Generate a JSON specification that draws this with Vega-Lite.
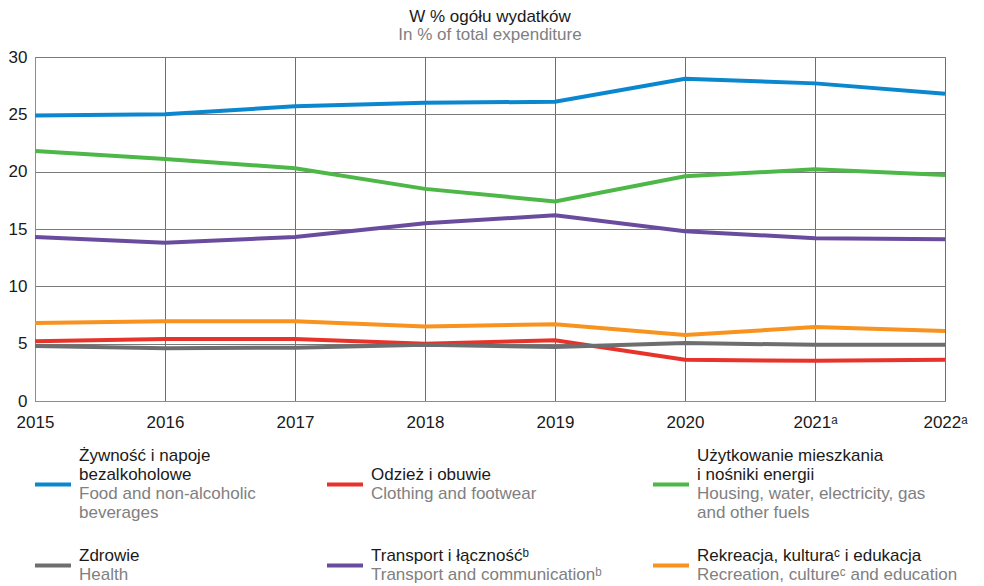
{
  "$schema": "https://vega.github.io/schema/vega-lite/v6.json",
  "padding": {"left": 7, "top": 7, "right": 10, "bottom": 0},
  "config": {"font": "Liberation Sans", "view": {"stroke": null}, "concat": {"spacing": 16}},
  "datasets": {
    "series": [
      {"year": 2015, "cat": "food", "value": 24.9}, {"year": 2016, "cat": "food", "value": 25.0}, {"year": 2017, "cat": "food", "value": 25.7}, {"year": 2018, "cat": "food", "value": 26.0}, {"year": 2019, "cat": "food", "value": 26.1}, {"year": 2020, "cat": "food", "value": 28.1}, {"year": 2021, "cat": "food", "value": 27.7}, {"year": 2022, "cat": "food", "value": 26.8},
      {"year": 2015, "cat": "cloth", "value": 5.2}, {"year": 2016, "cat": "cloth", "value": 5.4}, {"year": 2017, "cat": "cloth", "value": 5.4}, {"year": 2018, "cat": "cloth", "value": 5.0}, {"year": 2019, "cat": "cloth", "value": 5.3}, {"year": 2020, "cat": "cloth", "value": 3.6}, {"year": 2021, "cat": "cloth", "value": 3.5}, {"year": 2022, "cat": "cloth", "value": 3.6},
      {"year": 2015, "cat": "housing", "value": 21.8}, {"year": 2016, "cat": "housing", "value": 21.1}, {"year": 2017, "cat": "housing", "value": 20.3}, {"year": 2018, "cat": "housing", "value": 18.5}, {"year": 2019, "cat": "housing", "value": 17.4}, {"year": 2020, "cat": "housing", "value": 19.6}, {"year": 2021, "cat": "housing", "value": 20.2}, {"year": 2022, "cat": "housing", "value": 19.7},
      {"year": 2015, "cat": "health", "value": 4.8}, {"year": 2016, "cat": "health", "value": 4.6}, {"year": 2017, "cat": "health", "value": 4.65}, {"year": 2018, "cat": "health", "value": 4.9}, {"year": 2019, "cat": "health", "value": 4.7}, {"year": 2020, "cat": "health", "value": 5.05}, {"year": 2021, "cat": "health", "value": 4.9}, {"year": 2022, "cat": "health", "value": 4.9},
      {"year": 2015, "cat": "transport", "value": 14.3}, {"year": 2016, "cat": "transport", "value": 13.8}, {"year": 2017, "cat": "transport", "value": 14.3}, {"year": 2018, "cat": "transport", "value": 15.5}, {"year": 2019, "cat": "transport", "value": 16.2}, {"year": 2020, "cat": "transport", "value": 14.8}, {"year": 2021, "cat": "transport", "value": 14.2}, {"year": 2022, "cat": "transport", "value": 14.1},
      {"year": 2015, "cat": "recreation", "value": 6.8}, {"year": 2016, "cat": "recreation", "value": 6.95}, {"year": 2017, "cat": "recreation", "value": 6.95}, {"year": 2018, "cat": "recreation", "value": 6.5}, {"year": 2019, "cat": "recreation", "value": 6.7}, {"year": 2020, "cat": "recreation", "value": 5.75}, {"year": 2021, "cat": "recreation", "value": 6.45}, {"year": 2022, "cat": "recreation", "value": 6.1}
    ],
    "swatches": [
      {"cat": "food", "col": 0, "slot": 1.5},
      {"cat": "cloth", "col": 1, "slot": 1.5},
      {"cat": "housing", "col": 2, "slot": 1.5},
      {"cat": "health", "col": 0, "slot": 5.5},
      {"cat": "transport", "col": 1, "slot": 5.5},
      {"cat": "recreation", "col": 2, "slot": 5.5}
    ],
    "labels": [
      {"col": 0, "slot": 0, "lang": "pl", "text": "Żywność i napoje"},
      {"col": 0, "slot": 1, "lang": "pl", "text": "bezalkoholowe"},
      {"col": 0, "slot": 2, "lang": "en", "text": "Food and non-alcoholic"},
      {"col": 0, "slot": 3, "lang": "en", "text": "beverages"},
      {"col": 1, "slot": 1, "lang": "pl", "text": "Odzież i obuwie"},
      {"col": 1, "slot": 2, "lang": "en", "text": "Clothing and footwear"},
      {"col": 2, "slot": 0, "lang": "pl", "text": "Użytkowanie mieszkania"},
      {"col": 2, "slot": 1, "lang": "pl", "text": "i nośniki energii"},
      {"col": 2, "slot": 2, "lang": "en", "text": "Housing, water, electricity, gas"},
      {"col": 2, "slot": 3, "lang": "en", "text": "and other fuels"},
      {"col": 0, "slot": 5, "lang": "pl", "text": "Zdrowie"},
      {"col": 0, "slot": 6, "lang": "en", "text": "Health"},
      {"col": 1, "slot": 5, "lang": "pl", "text": "Transport i łącznośćᵇ"},
      {"col": 1, "slot": 6, "lang": "en", "text": "Transport and communicationᵇ"},
      {"col": 2, "slot": 5, "lang": "pl", "text": "Rekreacja, kulturaᶜ i edukacja"},
      {"col": 2, "slot": 6, "lang": "en", "text": "Recreation, cultureᶜ and education"}
    ]
  },
  "vconcat": [
    {
      "width": 910,
      "height": 344,
      "title": {
        "text": "W % ogółu wydatków",
        "subtitle": "In % of total expenditure",
        "fontSize": 17,
        "fontWeight": "normal",
        "color": "#1a1a1a",
        "subtitleFontSize": 17,
        "subtitleColor": "#808080",
        "subtitlePadding": 1,
        "anchor": "middle",
        "offset": 4
      },
      "view": {"stroke": "#8c8c8c", "strokeWidth": 1},
      "data": {"name": "series"},
      "mark": {"type": "line", "strokeWidth": 4},
      "encoding": {
        "x": {
          "field": "year",
          "type": "ordinal",
          "scale": {"type": "point", "padding": 0},
          "axis": {
            "title": null,
            "labelAngle": 0,
            "ticks": false,
            "domain": true,
            "domainColor": "#8c8c8c",
            "grid": true,
            "gridColor": "#6e6e6e",
            "gridOpacity": 1,
            "labelFontSize": 17,
            "labelColor": "#1a1a1a",
            "labelPadding": 13,
            "labelExpr": "datum.label == '2021' || datum.label == '2022' ? datum.label + 'ᵃ' : datum.label"
          }
        },
        "y": {
          "field": "value",
          "type": "quantitative",
          "scale": {"domain": [0, 30]},
          "axis": {
            "title": null,
            "values": [0, 5, 10, 15, 20, 25, 30],
            "ticks": false,
            "grid": true,
            "gridColor": "#7a7a7a",
            "gridOpacity": 1,
            "domainColor": "#8c8c8c",
            "labelFontSize": 17,
            "labelColor": "#1a1a1a",
            "labelPadding": 8
          }
        },
        "color": {
          "field": "cat",
          "type": "nominal",
          "scale": {
            "domain": ["food", "cloth", "housing", "health", "transport", "recreation"],
            "range": ["#0b87cf", "#e8332a", "#4db748", "#6d6e70", "#6a4c9e", "#f7931e"]
          },
          "legend": null
        }
      }
    },
    {
      "width": 910,
      "height": 119,
      "encoding": {
        "x": {"field": "col", "type": "quantitative", "scale": {"domain": [0, 1, 2], "range": [0, 292, 618]}, "axis": null},
        "y": {"field": "slot", "type": "quantitative", "scale": {"domain": [0, 3, 5, 6], "range": [0, 57, 100, 119]}, "axis": null}
      },
      "layer": [
        {
          "data": {"name": "swatches"},
          "mark": {"type": "tick", "orient": "horizontal", "thickness": 4, "size": 36, "xOffset": 18, "opacity": 1},
          "encoding": {
            "color": {
              "field": "cat",
              "type": "nominal",
              "scale": {
                "domain": ["food", "cloth", "housing", "health", "transport", "recreation"],
                "range": ["#0b87cf", "#e8332a", "#4db748", "#6d6e70", "#6a4c9e", "#f7931e"]
              },
              "legend": null
            }
          }
        },
        {
          "data": {"name": "labels"},
          "mark": {"type": "text", "align": "left", "baseline": "middle", "dx": 44, "fontSize": 17},
          "encoding": {
            "text": {"field": "text", "type": "nominal"},
            "color": {"condition": {"test": "datum.lang == 'en'", "value": "#808080"}, "value": "#1a1a1a"}
          }
        }
      ]
    }
  ]
}
